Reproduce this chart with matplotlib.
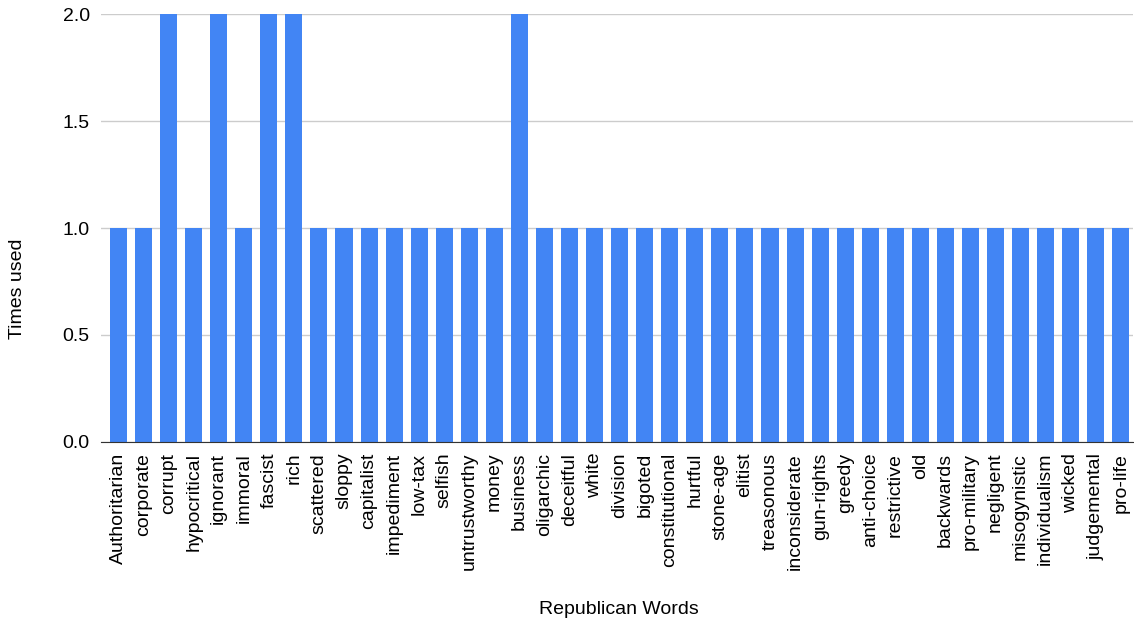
import matplotlib.pyplot as plt

plt.rcParams['font.family'] = ['Liberation Sans', 'DejaVu Sans']

words = ["Authoritarian", "corporate", "corrupt", "hypocritical", "ignorant", "immoral",
         "fascist", "rich", "scattered", "sloppy", "capitalist", "impediment", "low-tax",
         "selfish", "untrustworthy", "money", "business", "oligarchic", "deceitful", "white",
         "division", "bigoted", "constitutional", "hurtful", "stone-age", "elitist",
         "treasonous", "inconsiderate", "gun-rights", "greedy", "anti-choice", "restrictive",
         "old", "backwards", "pro-military", "negligent", "misogynistic", "individualism",
         "wicked", "judgemental", "pro-life"]
times_used = [1, 1, 2, 1, 2, 1, 2, 2, 1, 1, 1, 1, 1, 1, 1, 1, 2, 1, 1, 1, 1, 1, 1, 1, 1, 1,
              1, 1, 1, 1, 1, 1, 1, 1, 1, 1, 1, 1, 1, 1, 1]

fig = plt.figure(figsize=(11.34, 6.23), dpi=100)
ax = fig.add_axes([0.089, 0.291, 0.91, 0.686])

ax.bar(range(len(words)), times_used, width=0.68, color='#4285F4', zorder=3)

ax.set_xlim(-0.70, len(words) - 0.52)
ax.set_ylim(0, 2)
ax.set_yticks([0, 0.5, 1.0, 1.5, 2.0])
ax.set_yticklabels(['0.0', '0.5', '1.0', '1.5', '2.0'], fontsize=14)
ax.set_xticks(range(len(words)))
ax.set_xticklabels(words, rotation=90, fontsize=14)
ax.tick_params(length=0, pad=8)
ax.tick_params(axis='x', pad=8)

ax.grid(axis='y', color='#cccccc', linewidth=1, zorder=0)
for s in ['top', 'right', 'left']:
    ax.spines[s].set_visible(False)
ax.spines['bottom'].set_color('#333333')
ax.spines['bottom'].set_zorder(4)

fig.text(18 / 1134, 1 - 289 / 623, 'Times used', rotation=90, ha='center', va='center', fontsize=14)
fig.text(619 / 1134, 1 - 609 / 623, 'Republican Words', ha='center', va='center', fontsize=14)

plt.savefig('out.png', dpi=100)
